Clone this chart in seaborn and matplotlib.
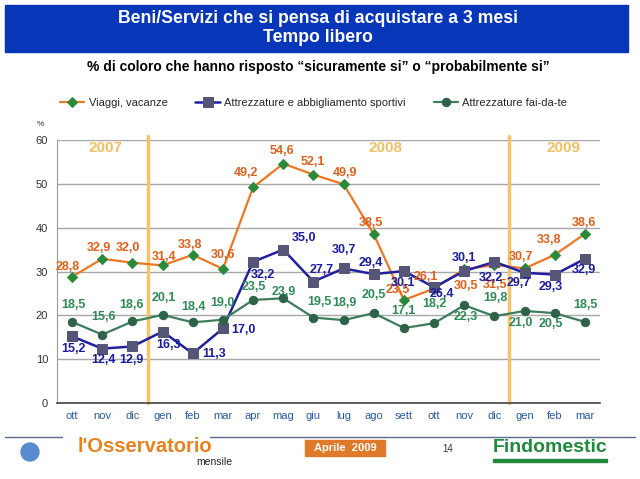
import matplotlib
matplotlib.use("Agg")
import matplotlib.pyplot as plt
import matplotlib.patches as mpatches
import seaborn as sns
import pandas as pd
import numpy as np

# data
months = ["ott", "nov", "dic", "gen", "feb", "mar", "apr", "mag", "giu",
          "lug", "ago", "sett", "ott", "nov", "dic", "gen", "feb", "mar"]
viaggi = [28.8, 32.9, 32.0, 31.4, 33.8, 30.6, 49.2, 54.6, 52.1,
          49.9, 38.5, 23.5, 26.1, 30.5, 31.5, 30.7, 33.8, 38.6]
sportivi = [15.2, 12.4, 12.9, 16.3, 11.3, 17.0, 32.2, 35.0, 27.7,
            30.7, 29.4, 30.1, 26.4, 30.1, 32.2, 29.7, 29.3, 32.9]
faidate = [18.5, 15.6, 18.6, 20.1, 18.4, 19.0, 23.5, 23.9, 19.5,
           18.9, 20.5, 17.1, 18.2, 22.3, 19.8, 21.0, 20.5, 18.5]
years = ["2007", "2008", "2009"]
year_breaks = [2.5, 14.5]

# label offsets in pixels (dx, dy up)
off_viaggi = [(-4, 10), (-3, 11), (-4, 15), (1, 8), (-3, 10), (0, 14), (-7, 14), (-1, 13), (-1, 13),
              (1, 11), (-3, 11), (-6, 10), (-8, 12), (2, -17), (1, -20), (-4, 11), (-6, 15), (-1, 11)]
off_sport = [(1, -13), (1, -11), (-1, -14), (6, -13), (21, -1), (21, -2), (10, -13), (21, 12), (8, 12),
             (0, 18), (-3, 11), (-1, -12), (8, -7), (0, 13), (-4, -16), (-6, -10), (-4, -12), (-1, -11)]
off_faidate = [(1, 17), (1, 18), (-1, 16), (1, 17), (1, 15), (0, 17), (1, 13), (0, 6), (6, 16),
               (1, 17), (0, 18), (0, 17), (0, 19), (2, -12), (1, 18), (-4, -12), (-4, -11), (1, 17)]

x = np.arange(len(months))
df = pd.DataFrame({"x": x, "viaggi": viaggi, "sportivi": sportivi, "faidate": faidate})

sns.set_style("white")
plt.rcParams["font.family"] = ["Liberation Sans", "DejaVu Sans"]

fig = plt.figure(figsize=(6.4, 4.79), dpi=100)
ax = fig.add_axes([57 / 640, 1 - 403 / 479, 543 / 640, 263 / 479])

series = [
    ("viaggi", "Viaggi, vacanze", "#ee7722", "D", "#2a8a3a", 5, 1.6, "#e0601a", off_viaggi),
    ("sportivi", "Attrezzature e abbigliamento sportivi", "#2020a0", "s", "#555577", 7, 1.8, "#1c1ca0", off_sport),
    ("faidate", "Attrezzature fai-da-te", "#3c7e5c", "o", "#2e6249", 6, 1.6, "#2e8b57", off_faidate),
]

for col, label, lc, mk, mc, ms, lw, tc, offs in series:
    sns.lineplot(data=df, x="x", y=col, ax=ax, color=lc, linewidth=lw, marker=mk,
                 markersize=ms, markerfacecolor=mc, markeredgecolor=mc, label=label)
    for xi, v, (dx, dy) in zip(x, df[col], offs):
        ax.annotate(f"{v:.1f}".replace(".", ","), (xi, v), xytext=(dx, dy),
                    textcoords="offset pixels", ha="center", va="center",
                    fontsize=9, fontweight="bold", color=tc)

# year separators and labels
for b in year_breaks:
    ax.plot([b, b], [0, 61], color="#f5c46a", linewidth=2.5, clip_on=False, zorder=1)
year_pos = [1.1, 10.4, 16.3]
for yp, yr in zip(year_pos, years):
    ax.text(yp, 58.2, yr, ha="center", va="center", fontsize=11, fontweight="bold", color="#f0c060")

ax.set_xlim(-0.5, len(months) - 0.5)
ax.set_ylim(0, 60)
ax.set_yticks(range(0, 61, 10))
ax.set_xticks(x)
ax.set_xticklabels(months, color="#2a5aa8", fontsize=8)
ax.set_xticks(np.arange(-0.5, len(months)), minor=True)
ax.tick_params(axis="x", which="major", length=0, pad=6)
ax.tick_params(axis="x", which="minor", length=4, direction="out", color="#444444", width=1)
ax.tick_params(axis="y", labelsize=8, labelcolor="#333333", length=3, color="#888888")
ax.grid(axis="y", color="#a8a8a8", linewidth=1)
ax.set_axisbelow(True)
for s in ["top", "right"]:
    ax.spines[s].set_visible(False)
ax.spines["left"].set_color("#999999")
ax.spines["bottom"].set_color("#444444")
ax.spines["bottom"].set_linewidth(1.2)
ax.set_xlabel("")
ax.set_ylabel("")

handles, labels = ax.get_legend_handles_labels()
ax.get_legend().remove()
fig.legend(handles, labels, loc="center", bbox_to_anchor=(0.49, 1 - 103 / 479), ncol=3,
           frameon=False, fontsize=8, handlelength=2.2, columnspacing=2.5, handletextpad=0.4)

fig.text(40 / 640, 1 - 125 / 479, "%", fontsize=6, color="#333333", ha="center", va="center")

# title banner
fig.patches.append(mpatches.Rectangle((5 / 640, 1 - 52 / 479), 623 / 640, 47 / 479,
                                      transform=fig.transFigure, color="#0836b8", zorder=0))
fig.text(318 / 640, 1 - 28 / 479, "Beni/Servizi che si pensa di acquistare a 3 mesi\nTempo libero",
         ha="center", va="center", color="white", fontsize=12.7, fontweight="bold", linespacing=1.1)
fig.text(318 / 640, 1 - 67 / 479, "% di coloro che hanno risposto \u201csicuramente si\u201d o \u201cprobabilmente si\u201d",
         ha="center", va="center", color="black", fontsize=10, fontweight="bold")

# footer
fig.add_artist(plt.Line2D([5 / 640, 62 / 640], [1 - 437 / 479] * 2, color="#5a6a8a", linewidth=1))
fig.add_artist(plt.Line2D([210 / 640, 635 / 640], [1 - 437 / 479] * 2, color="#5a6a8a", linewidth=1))
fig.patches.append(mpatches.Ellipse((30 / 640, 1 - 452 / 479), 18 / 640, 18 / 479,
                                    transform=fig.transFigure, color="#5a8ad0", zorder=0))
fig.text(78 / 640, 1 - 446 / 479, "l'Osservatorio", ha="left", va="center", color="#e8821e",
         fontsize=14.5, fontweight="bold")
fig.text(232 / 640, 1 - 462 / 479, "mensile", ha="right", va="center", color="#222222", fontsize=7.5)
fig.patches.append(mpatches.Rectangle((305 / 640, 1 - 456 / 479), 80 / 640, 16 / 479,
                                      transform=fig.transFigure, color="#e07a2a", zorder=0))
fig.text(345 / 640, 1 - 448 / 479, "Aprile  2009", ha="center", va="center", color="white",
         fontsize=8, fontweight="bold")
fig.text(448 / 640, 1 - 449 / 479, "14", ha="center", va="center", color="#333333", fontsize=7)
fig.text(550 / 640, 1 - 448 / 479, "Findomestic", ha="center", va="center", color="#1f8a3a",
         fontsize=14, fontweight="bold")
fig.patches.append(mpatches.Rectangle((493 / 640, 1 - 462 / 479), 114 / 640, 3 / 479,
                                      transform=fig.transFigure, color="#1f8a3a", zorder=0))

fig.savefig("out.png", dpi=100)
